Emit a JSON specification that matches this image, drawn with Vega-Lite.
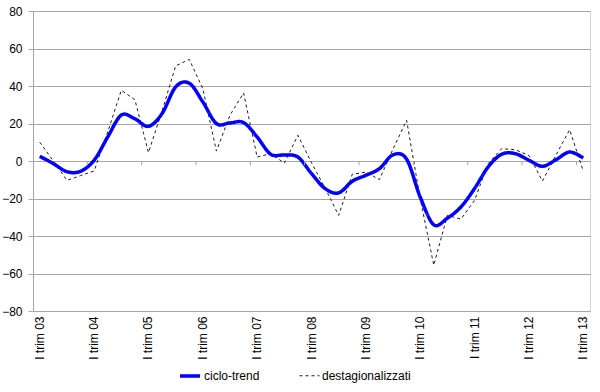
{
  "$schema": "https://vega.github.io/schema/vega-lite/v6.json",
  "width": 557,
  "height": 300,
  "autosize": {"type": "none"},
  "padding": {"left": 33, "top": 11, "right": 10, "bottom": 81},
  "background": "white",
  "config": {
    "font": "Liberation Sans",
    "view": {"stroke": "#d4d4d4"},
    "axis": {"labelFont": "Liberation Sans", "labelFontSize": 12, "labelColor": "#000000", "title": null, "labelOverlap": false},
    "axisY": {"tickCount": 12, "grid": true, "gridColor": "#a6a6a6", "domainColor": "#a6a6a6", "tickColor": "#a6a6a6", "tickSize": 5, "labelPadding": 6},
    "legend": {"labelFont": "Liberation Sans", "labelFontSize": 12, "labelColor": "#000000"}
  },
  "data": {
    "values": [
      {"q": "I trim 03", "ciclo-trend": 2.5, "destagionalizzati": 10},
      {"q": "II trim 03", "ciclo-trend": -1.4, "destagionalizzati": 0},
      {"q": "III trim 03", "ciclo-trend": -5.7, "destagionalizzati": -10.3},
      {"q": "IV trim 03", "ciclo-trend": -5.5, "destagionalizzati": -7.8},
      {"q": "I trim 04", "ciclo-trend": 0.4, "destagionalizzati": -5.3},
      {"q": "II trim 04", "ciclo-trend": 12.8, "destagionalizzati": 15.5},
      {"q": "III trim 04", "ciclo-trend": 24.5, "destagionalizzati": 37.7},
      {"q": "IV trim 04", "ciclo-trend": 22.5, "destagionalizzati": 32.7},
      {"q": "I trim 05", "ciclo-trend": 18.5, "destagionalizzati": 4.5},
      {"q": "II trim 05", "ciclo-trend": 25.3, "destagionalizzati": 26.7},
      {"q": "III trim 05", "ciclo-trend": 39.5, "destagionalizzati": 50.7},
      {"q": "IV trim 05", "ciclo-trend": 41.5, "destagionalizzati": 54.2},
      {"q": "I trim 06", "ciclo-trend": 31.5, "destagionalizzati": 38.6},
      {"q": "II trim 06", "ciclo-trend": 20, "destagionalizzati": 5.3},
      {"q": "III trim 06", "ciclo-trend": 20.3, "destagionalizzati": 24.4},
      {"q": "IV trim 06", "ciclo-trend": 20.5, "destagionalizzati": 36.3},
      {"q": "I trim 07", "ciclo-trend": 12.8, "destagionalizzati": 2.1},
      {"q": "II trim 07", "ciclo-trend": 3.6, "destagionalizzati": 3.9},
      {"q": "III trim 07", "ciclo-trend": 3.2, "destagionalizzati": -1.1},
      {"q": "IV trim 07", "ciclo-trend": 2.1, "destagionalizzati": 13.7},
      {"q": "I trim 08", "ciclo-trend": -6.7, "destagionalizzati": -0.9},
      {"q": "II trim 08", "ciclo-trend": -14.7, "destagionalizzati": -14.4},
      {"q": "III trim 08", "ciclo-trend": -17, "destagionalizzati": -29},
      {"q": "IV trim 08", "ciclo-trend": -10.8, "destagionalizzati": -7.1},
      {"q": "I trim 09", "ciclo-trend": -7.6, "destagionalizzati": -5.9},
      {"q": "II trim 09", "ciclo-trend": -4.1, "destagionalizzati": -9.9},
      {"q": "III trim 09", "ciclo-trend": 3.3, "destagionalizzati": 6.4},
      {"q": "IV trim 09", "ciclo-trend": 1, "destagionalizzati": 21.7},
      {"q": "I trim 10", "ciclo-trend": -19.2, "destagionalizzati": -20},
      {"q": "II trim 10", "ciclo-trend": -34, "destagionalizzati": -55.6},
      {"q": "III trim 10", "ciclo-trend": -30.5, "destagionalizzati": -29},
      {"q": "IV trim 10", "ciclo-trend": -24.5, "destagionalizzati": -31},
      {"q": "I trim 11", "ciclo-trend": -14.7, "destagionalizzati": -21},
      {"q": "II trim 11", "ciclo-trend": -3.2, "destagionalizzati": -1.4},
      {"q": "III trim 11", "ciclo-trend": 3.6, "destagionalizzati": 6.6},
      {"q": "IV trim 11", "ciclo-trend": 3.9, "destagionalizzati": 6},
      {"q": "I trim 12", "ciclo-trend": 0.4, "destagionalizzati": 3},
      {"q": "II trim 12", "ciclo-trend": -2.8, "destagionalizzati": -10.7},
      {"q": "III trim 12", "ciclo-trend": 0.7, "destagionalizzati": 3.2},
      {"q": "IV trim 12", "ciclo-trend": 4.8, "destagionalizzati": 16.7},
      {"q": "I trim 13", "ciclo-trend": 1.6, "destagionalizzati": -5.3}
    ]
  },
  "encoding": {
    "x": {
      "field": "q",
      "type": "ordinal",
      "sort": null,
      "scale": {
        "type": "band",
        "paddingInner": 0,
        "paddingOuter": 0,
        "domain": ["I trim 03","II trim 03","III trim 03","IV trim 03","I trim 04","II trim 04","III trim 04","IV trim 04","I trim 05","II trim 05","III trim 05","IV trim 05","I trim 06","II trim 06","III trim 06","IV trim 06","I trim 07","II trim 07","III trim 07","IV trim 07","I trim 08","II trim 08","III trim 08","IV trim 08","I trim 09","II trim 09","III trim 09","IV trim 09","I trim 10","II trim 10","III trim 10","IV trim 10","I trim 11","II trim 11","III trim 11","IV trim 11","I trim 12","II trim 12","III trim 12","IV trim 12","I trim 13"]
      },
      "axis": {
        "values": ["I trim 03","I trim 04","I trim 05","I trim 06","I trim 07","I trim 08","I trim 09","I trim 10","I trim 11","I trim 12","I trim 13"],
        "labelAngle": 270,
        "labelAlign": "right",
        "labelBaseline": "middle",
        "ticks": false,
        "domain": false,
        "grid": false,
        "labelPadding": 5
      }
    }
  },
  "layer": [
    {
      "transform": [{"fold": ["destagionalizzati"], "as": ["key", "value"]}],
      "mark": {"type": "line", "interpolate": "linear"},
      "encoding": {
        "y": {
          "field": "value",
          "type": "quantitative",
          "scale": {"domain": [-80, 80], "nice": false, "zero": false},
          "axis": {"values": [-80, -60, -40, -20, 0, 20, 40, 60, 80], "tickCount": 12}
        },
        "color": {
          "field": "key",
          "type": "nominal",
          "scale": {"domain": ["ciclo-trend", "destagionalizzati"], "range": ["#0000ff", "#1a1a1a"]},
          "legend": {
            "title": null,
            "orient": "none",
            "legendX": 145,
            "legendY": 353,
            "direction": "horizontal",
            "symbolType": "stroke",
            "symbolSize": 400,
            "labelOffset": 2,
            "columnPadding": 37
          }
        },
        "strokeDash": {
          "field": "key",
          "type": "nominal",
          "scale": {"domain": ["ciclo-trend", "destagionalizzati"], "range": [[1, 0], [3, 3]]}
        },
        "strokeWidth": {
          "field": "key",
          "type": "nominal",
          "scale": {"domain": ["ciclo-trend", "destagionalizzati"], "range": [3.5, 1]}
        }
      }
    },
    {
      "transform": [{"fold": ["ciclo-trend"], "as": ["key", "value"]}],
      "mark": {"type": "line", "interpolate": "cardinal"},
      "encoding": {
        "y": {"field": "value", "type": "quantitative", "axis": {"values": [-80, -60, -40, -20, 0, 20, 40, 60, 80], "tickCount": 12}},
        "color": {"field": "key", "type": "nominal"},
        "strokeDash": {"field": "key", "type": "nominal"},
        "strokeWidth": {"field": "key", "type": "nominal"}
      }
    },
    {
      "transform": [{"filter": "indexof(datum.q, 'I trim') === 0 && datum.q !== 'I trim 03'"}],
      "mark": {"type": "rule", "color": "#a6a6a6", "strokeWidth": 1},
      "encoding": {
        "x": {"field": "q", "type": "ordinal", "bandPosition": 0},
        "y": {"datum": 0, "type": "quantitative", "axis": {"values": [-80, -60, -40, -20, 0, 20, 40, 60, 80], "tickCount": 12}},
        "y2": {"datum": -2.3}
      }
    }
  ]
}
